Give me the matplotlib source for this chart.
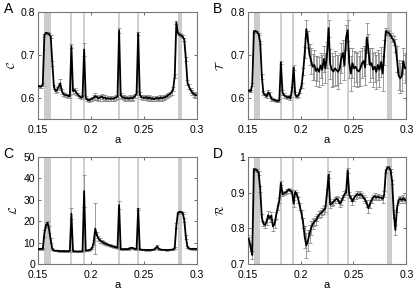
import numpy as np
import matplotlib
matplotlib.use("Agg")
import matplotlib.pyplot as plt

plt.rcParams['font.family'] = ['Liberation Sans', 'DejaVu Sans']
plt.rcParams['mathtext.fontset'] = 'cm'

# parameter grid a = 0.15 ... 0.30
a = np.round(np.arange(101) * 0.0015 + 0.15, 4)

# gray markers: two wide bands and four thin lines
bands = [(0.156, 0.162), (0.2818, 0.2863)]
thin_lines = [0.1813, 0.1930, 0.2260, 0.2444]

# panel A
C_val = [0.627, 0.626, 0.626, 0.630, 0.745, 0.751, 0.750, 0.748, 0.742, 0.680,
         0.625, 0.615, 0.618, 0.626, 0.633, 0.615, 0.608, 0.606, 0.605, 0.604,
         0.603, 0.720, 0.615, 0.617, 0.612, 0.607, 0.603, 0.600, 0.601, 0.712,
         0.600, 0.595, 0.594, 0.595, 0.597, 0.600, 0.603, 0.601, 0.598, 0.600,
         0.602, 0.599, 0.600, 0.597, 0.598, 0.597, 0.598, 0.597, 0.598, 0.600,
         0.602, 0.757, 0.605, 0.601, 0.600, 0.598, 0.599, 0.597, 0.600, 0.598,
         0.600, 0.603, 0.610, 0.750, 0.607, 0.601, 0.600, 0.599, 0.601, 0.598,
         0.600, 0.597, 0.598, 0.596, 0.598, 0.599, 0.597, 0.600, 0.598, 0.600,
         0.601, 0.603, 0.606, 0.608, 0.612, 0.620, 0.650, 0.775, 0.750, 0.747,
         0.745, 0.742, 0.735, 0.690, 0.635, 0.625, 0.617, 0.612, 0.608, 0.606,
         0.605]
C_err = [0.003, 0.003, 0.003, 0.003, 0.004, 0.003, 0.003, 0.003, 0.004, 0.006,
         0.005, 0.005, 0.006, 0.008, 0.010, 0.006, 0.004, 0.004, 0.004, 0.004,
         0.004, 0.005, 0.006, 0.006, 0.005, 0.004, 0.004, 0.004, 0.004, 0.015,
         0.004, 0.004, 0.004, 0.004, 0.005, 0.006, 0.007, 0.006, 0.006, 0.007,
         0.006, 0.006, 0.006, 0.005, 0.006, 0.005, 0.006, 0.005, 0.005, 0.005,
         0.005, 0.006, 0.006, 0.005, 0.005, 0.005, 0.005, 0.005, 0.005, 0.005,
         0.005, 0.005, 0.005, 0.004, 0.005, 0.005, 0.005, 0.005, 0.005, 0.005,
         0.005, 0.005, 0.005, 0.005, 0.005, 0.005, 0.005, 0.005, 0.005, 0.005,
         0.005, 0.005, 0.005, 0.005, 0.005, 0.005, 0.005, 0.004, 0.004, 0.004,
         0.004, 0.004, 0.004, 0.005, 0.006, 0.006, 0.006, 0.006, 0.006, 0.006,
         0.006]

# panel B
T_val = [0.617, 0.616, 0.615, 0.630, 0.754, 0.755, 0.753, 0.748, 0.728, 0.650,
         0.610, 0.606, 0.603, 0.612, 0.608, 0.597, 0.595, 0.594, 0.593, 0.592,
         0.593, 0.682, 0.612, 0.605, 0.603, 0.600, 0.602, 0.598, 0.620, 0.670,
         0.607, 0.602, 0.605, 0.615, 0.628, 0.660, 0.705, 0.760, 0.735, 0.700,
         0.686, 0.672, 0.676, 0.662, 0.668, 0.660, 0.675, 0.665, 0.690, 0.668,
         0.700, 0.762, 0.678, 0.665, 0.661, 0.668, 0.664, 0.660, 0.668, 0.692,
         0.704, 0.675, 0.740, 0.757, 0.680, 0.656, 0.680, 0.668, 0.672, 0.664,
         0.661, 0.668, 0.680, 0.685, 0.670, 0.740, 0.714, 0.676, 0.680, 0.665,
         0.672, 0.660, 0.676, 0.665, 0.683, 0.656, 0.705, 0.755, 0.752, 0.750,
         0.745, 0.738, 0.733, 0.722, 0.690, 0.652, 0.645, 0.650, 0.685, 0.668,
         0.670]
T_err = [0.003, 0.003, 0.003, 0.004, 0.003, 0.003, 0.003, 0.003, 0.004, 0.006,
         0.005, 0.005, 0.005, 0.006, 0.005, 0.004, 0.003, 0.003, 0.003, 0.003,
         0.003, 0.004, 0.005, 0.005, 0.004, 0.004, 0.004, 0.004, 0.005, 0.006,
         0.005, 0.004, 0.004, 0.005, 0.006, 0.008, 0.012, 0.020, 0.020, 0.025,
         0.030, 0.030, 0.035, 0.035, 0.030, 0.035, 0.030, 0.035, 0.030, 0.035,
         0.030, 0.020, 0.035, 0.040, 0.035, 0.040, 0.035, 0.040, 0.035, 0.035,
         0.030, 0.035, 0.030, 0.025, 0.035, 0.040, 0.035, 0.040, 0.035, 0.040,
         0.035, 0.040, 0.035, 0.035, 0.040, 0.035, 0.035, 0.040, 0.035, 0.040,
         0.035, 0.040, 0.035, 0.040, 0.035, 0.040, 0.030, 0.008, 0.006, 0.006,
         0.006, 0.008, 0.010, 0.015, 0.030, 0.035, 0.035, 0.035, 0.030, 0.035,
         0.030]

# panel C
L_val = [7.0, 7.0, 7.1, 7.0, 14.3, 18.2, 19.2, 16.0, 11.0, 7.0,
         6.3, 6.2, 6.2, 6.1, 6.1, 6.0, 6.0, 6.0, 5.9, 6.0,
         6.1, 23.5, 6.0, 5.9, 5.9, 5.8, 5.9, 5.9, 6.0, 34.0,
         6.3, 6.3, 6.5, 6.8, 7.4, 10.0, 16.5, 13.5, 12.0, 11.0,
         10.5, 10.0, 9.6, 9.3, 9.0, 8.7, 8.5, 8.2, 8.0, 7.8,
         7.6, 27.5, 7.0, 6.9, 6.9, 7.0, 6.9, 7.0, 7.4, 7.6,
         7.3, 7.0, 7.0, 25.8, 6.8, 6.7, 6.6, 6.6, 6.5, 6.6,
         6.5, 6.6, 6.6, 6.8, 7.4, 8.2, 7.0, 6.7, 6.6, 6.6,
         6.6, 6.5, 6.6, 6.6, 6.7, 6.8, 7.5, 18.0, 23.8, 24.4,
         24.2, 23.8, 20.5, 12.5, 8.0, 7.2, 7.1, 7.0, 7.1, 7.0,
         7.0]
L_err = [0.3, 0.3, 0.3, 0.3, 1.5, 1.5, 1.0, 1.5, 1.2, 0.5,
         0.3, 0.3, 0.3, 0.3, 0.3, 0.3, 0.3, 0.3, 0.3, 0.3,
         0.3, 2.5, 0.3, 0.3, 0.3, 0.3, 0.3, 0.3, 0.3, 7.5,
         0.3, 0.3, 0.3, 0.4, 0.5, 1.0, 12.0, 1.5, 1.2, 1.0,
         0.8, 0.8, 0.6, 0.6, 0.5, 0.5, 0.5, 0.5, 0.4, 0.4,
         0.4, 2.0, 0.3, 0.3, 0.3, 0.3, 0.3, 0.3, 0.4, 0.4,
         0.3, 0.3, 0.3, 0.5, 0.3, 0.3, 0.3, 0.3, 0.3, 0.3,
         0.3, 0.3, 0.3, 0.3, 0.4, 0.6, 0.3, 0.3, 0.3, 0.3,
         0.3, 0.3, 0.3, 0.3, 0.3, 0.3, 0.4, 1.0, 0.6, 0.5,
         0.5, 0.6, 0.8, 0.8, 0.5, 0.3, 0.3, 0.3, 0.3, 0.3,
         0.3]

# panel D
R_val = [0.772, 0.768, 0.745, 0.725, 0.965, 0.965, 0.962, 0.955, 0.910, 0.830,
         0.813, 0.809, 0.818, 0.837, 0.828, 0.835, 0.805, 0.812, 0.836, 0.858,
         0.878, 0.927, 0.895, 0.898, 0.900, 0.905, 0.908, 0.905, 0.902, 0.869,
         0.902, 0.895, 0.880, 0.860, 0.840, 0.815, 0.775, 0.752, 0.765, 0.785,
         0.800, 0.812, 0.818, 0.822, 0.830, 0.838, 0.842, 0.846, 0.851, 0.856,
         0.900, 0.950, 0.866, 0.869, 0.874, 0.879, 0.883, 0.879, 0.869, 0.874,
         0.886, 0.895, 0.900, 0.962, 0.893, 0.885, 0.875, 0.885, 0.891, 0.895,
         0.893, 0.895, 0.892, 0.885, 0.880, 0.869, 0.856, 0.868, 0.879, 0.886,
         0.890, 0.886, 0.888, 0.886, 0.886, 0.882, 0.895, 0.960, 0.970, 0.970,
         0.962, 0.930, 0.840, 0.795, 0.855, 0.879, 0.883, 0.879, 0.884, 0.879,
         0.878]
R_err = [0.008, 0.008, 0.010, 0.012, 0.004, 0.004, 0.004, 0.005, 0.008, 0.010,
         0.008, 0.008, 0.008, 0.010, 0.010, 0.010, 0.012, 0.010, 0.010, 0.008,
         0.006, 0.006, 0.006, 0.005, 0.005, 0.005, 0.005, 0.005, 0.006, 0.010,
         0.006, 0.006, 0.008, 0.010, 0.012, 0.015, 0.030, 0.035, 0.030, 0.025,
         0.020, 0.015, 0.012, 0.012, 0.010, 0.010, 0.010, 0.010, 0.010, 0.010,
         0.010, 0.010, 0.008, 0.008, 0.008, 0.008, 0.008, 0.008, 0.010, 0.010,
         0.008, 0.008, 0.008, 0.006, 0.008, 0.008, 0.010, 0.008, 0.008, 0.008,
         0.008, 0.008, 0.008, 0.008, 0.008, 0.010, 0.012, 0.010, 0.008, 0.008,
         0.008, 0.008, 0.008, 0.008, 0.008, 0.010, 0.008, 0.005, 0.004, 0.004,
         0.004, 0.006, 0.012, 0.015, 0.010, 0.008, 0.008, 0.008, 0.008, 0.008,
         0.008]

panels = [
    ("A", C_val, C_err, r"$\mathcal{C}$", (0.55, 0.8), [0.6, 0.7, 0.8], ["0.6", "0.7", "0.8"]),
    ("B", T_val, T_err, r"$\mathcal{T}$", (0.55, 0.8), [0.6, 0.7, 0.8], ["0.6", "0.7", "0.8"]),
    ("C", L_val, L_err, r"$\mathcal{L}$", (0, 50), [0, 10, 20, 30, 40, 50], ["0", "10", "20", "30", "40", "50"]),
    ("D", R_val, R_err, r"$\mathcal{R}$", (0.7, 1.0), [0.7, 0.8, 0.9, 1.0], ["0.7", "0.8", "0.9", "1"]),
]

x_ticks = [0.15, 0.2, 0.25, 0.3]
x_ticklabels = ["0.15", "0.2", "0.25", "0.3"]

fig = plt.figure(figsize=(4.15, 2.92), dpi=100)
lefts = [0.0916, 0.5964]
bottoms = [0.5925, 0.0959]
w, h = 0.3831, 0.367

band_color = "#cccccc"
for k, (letter, vals, errs, ylab, ylim, yt, ytl) in enumerate(panels):
    ax = fig.add_axes([lefts[k % 2], bottoms[k // 2], w, h])
    for lo, hi in bands:
        ax.axvspan(lo, hi, color=band_color, lw=0, zorder=0)
    for xl in thin_lines:
        ax.axvline(xl, color=band_color, lw=1.3, zorder=0)
    ax.errorbar(a, vals, yerr=errs, fmt="none", ecolor="#8c8c8c",
                elinewidth=0.6, capsize=1.3, capthick=0.6, zorder=2)
    ax.plot(a, vals, color="black", lw=1.3, zorder=3)
    ax.set_xlim(0.15, 0.3)
    ax.set_ylim(*ylim)
    ax.set_xticks(x_ticks)
    ax.set_xticklabels(x_ticklabels)
    ax.set_yticks(yt)
    ax.set_yticklabels(ytl)
    ax.tick_params(direction="in", length=2, width=0.6, top=True, right=True,
                   labelsize=7.5, color="#555555")
    ax.tick_params(axis="x", pad=4.5)
    ax.tick_params(axis="y", pad=2)
    for sp in ax.spines.values():
        sp.set_color("#777777")
        sp.set_linewidth(0.8)
    ax.set_xlabel("a", fontsize=8, labelpad=0)
    ax.set_ylabel(ylab, fontsize=8, labelpad=3)
    fig.text(lefts[k % 2] - 0.083, bottoms[k // 2] + h + 0.035, letter,
             fontsize=10, va="top", ha="left")

fig.savefig("out.png", dpi=100)
